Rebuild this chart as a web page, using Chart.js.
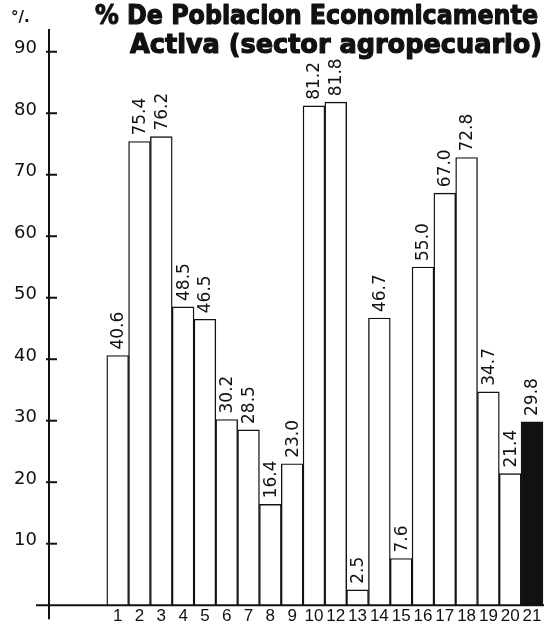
<!DOCTYPE html>
<html>
<head>
<meta charset="utf-8">
<script src="https://cdn.jsdelivr.net/npm/chart.js@4.4.1/dist/chart.umd.min.js"></script>
<style>
  html, body { margin: 0; padding: 0; background: #fff; }
  #wrap { width: 544px; height: 628px; }
</style>
</head>
<body>
<div id="wrap"><canvas id="chart" width="544" height="628"></canvas></div>
<script>
// state numbers under each bar (there is no 11 on the original)
const categories = ["1", "2", "3", "4", "5", "6", "7", "8", "9", "10",
                    "12", "13", "14", "15", "16", "17", "18", "19", "20", "21"]
// % of economically active population in agriculture
const values = [40.6, 75.4, 76.2, 48.5, 46.5, 30.2, 28.5, 16.4, 23.0, 81.2,
                81.8, 2.5, 46.7, 7.6, 55.0, 67.0, 72.8, 34.7, 21.4, 29.8]
const yTicks = [10, 20, 30, 40, 50, 60, 70, 80, 90]
const titleLines = ["% De Poblacion Economicamente", "Activa (sector agropecuario)"]
const unitLabel = "°/."

const ink = "#111"
Chart.defaults.font.family = "DejaVu Sans"
Chart.defaults.color = ink

// hand drawn looking axes, tick marks, value labels and title
const decorations = {
    id: "decorations",
    afterDatasetsDraw(chart) {
        const ctx = chart.ctx
        const area = chart.chartArea
        const y = chart.scales.y
        ctx.save()
        ctx.strokeStyle = ink
        ctx.lineWidth = 2
        // y axis, runs a bit below the base line
        ctx.beginPath()
        ctx.moveTo(area.left, area.top)
        ctx.lineTo(area.left, area.bottom + 14)
        ctx.stroke()
        // x axis, starts a bit left of the y axis
        ctx.beginPath()
        ctx.moveTo(area.left - 13, area.bottom)
        ctx.lineTo(area.right, area.bottom)
        ctx.stroke()
        // small tick marks
        y.ticks.forEach(t => {
            const py = y.getPixelForValue(t.value)
            ctx.beginPath()
            ctx.moveTo(area.left - 3, py)
            ctx.lineTo(area.left + 8, py)
            ctx.stroke()
        })

        // rotated value above each bar
        ctx.fillStyle = ink
        ctx.font = "17px DejaVu Sans"
        ctx.textAlign = "left"
        ctx.textBaseline = "middle"
        chart.getDatasetMeta(0).data.forEach((bar, i) => {
            ctx.save()
            ctx.translate(bar.x, bar.y - 6)
            ctx.rotate(-Math.PI / 2)
            ctx.fillText(values[i].toFixed(1), 0, 1)
            ctx.restore()
        })

        // title, squeezed to the width it has on the original, stroked to look heavier
        ctx.font = "bold 26px DejaVu Sans"
        ctx.textBaseline = "alphabetic"
        ctx.lineWidth = 1.2
        ctx.lineJoin = "round"
        const fit = (text, x0, x1, base) => {
            const w = ctx.measureText(text).width
            ctx.save()
            ctx.translate(x0, base)
            ctx.scale((x1 - x0) / w, 1)
            ctx.fillText(text, 0, 0)
            ctx.strokeText(text, 0, 0)
            ctx.restore()
        }
        fit(titleLines[0], 95, 538, 24)
        fit(titleLines[1], 130, 542, 53)

        ctx.font = "bold 15px DejaVu Sans"
        ctx.fillText(unitLabel, 11, 22)
        ctx.restore()
    }
}

new Chart(document.getElementById("chart"), {
    type: "bar",
    data: {
        datasets: [
            {
                data: values.map((v, i) => ({ x: i + 1, y: v })),
                backgroundColor: c => c.dataIndex === values.length - 1 ? ink : "#fff",
                borderColor: ink,
                borderWidth: 1.4,
                barPercentage: 1,
                categoryPercentage: 1
            }
        ]
    },
    options: {
        responsive: false,
        animation: false,
        events: [],
        layout: { padding: { top: 29, left: 0, right: 0, bottom: 0 } },
        plugins: {
            legend: { display: false },
            tooltip: { enabled: false }
        },
        scales: {
            x: {
                type: "linear",
                offset: false,
                min: -2.15,
                max: 20.55,
                grid: { display: false, drawTicks: false, offset: false },
                border: { display: false },
                afterBuildTicks: s => { s.ticks = categories.map((c, i) => ({ value: i + 1 })) },
                afterFit: s => { s.height = 19 },
                ticks: {
                    autoSkip: false,
                    maxRotation: 0,
                    padding: 1,
                    font: { family: "Liberation Sans", size: 17 },
                    callback: v => categories[v - 1]
                }
            },
            y: {
                min: 0,
                max: 93.7,
                grid: { display: false, drawTicks: false },
                border: { display: false },
                afterBuildTicks: s => { s.ticks = yTicks.map(v => ({ value: v })) },
                afterFit: s => { s.width = 49 },
                ticks: {
                    padding: 12,
                    labelOffset: -3,
                    font: { size: 18 },
                    callback: v => String(v)
                }
            }
        }
    },
    plugins: [decorations]
})
</script>
</body>
</html>
